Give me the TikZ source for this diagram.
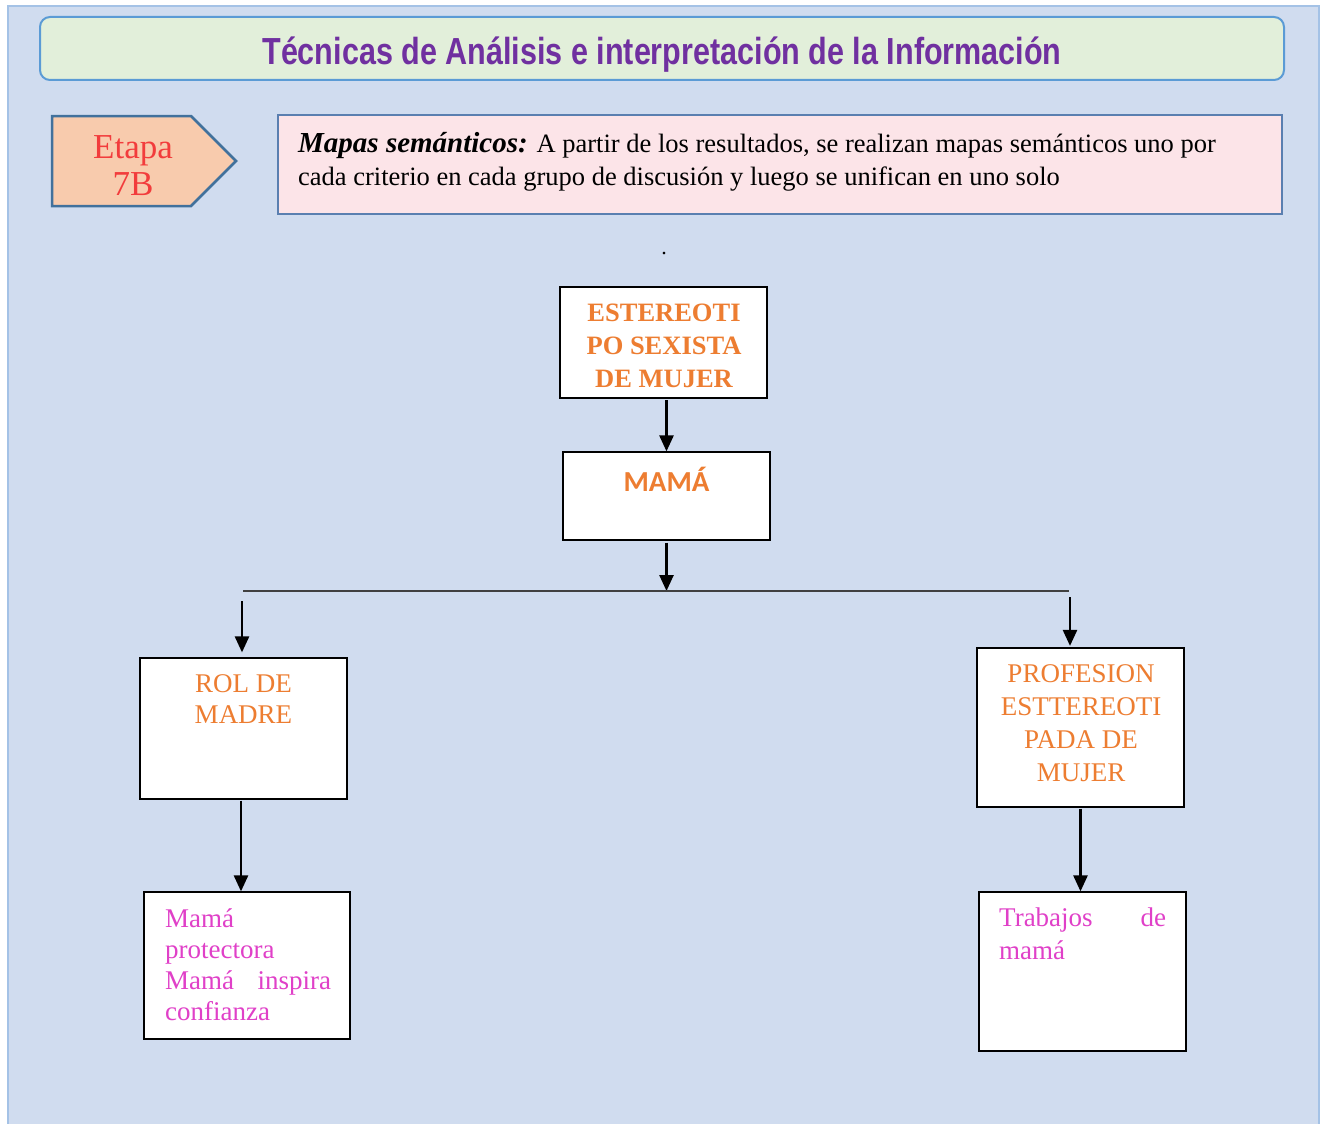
\documentclass[tikz,border=0pt]{standalone}
\usepackage{fontspec}
\setmainfont{Liberation Serif}
\newfontfamily\titlefont{Liberation Sans}[FakeStretch=0.81]
\newfontfamily\calfont{Carlito}
\usetikzlibrary{arrows.meta}
\definecolor{panelfill}{HTML}{D0DCEF}
\definecolor{panelline}{HTML}{A4C2E6}
\definecolor{titlefill}{HTML}{E2EFDA}
\definecolor{titleline}{HTML}{5B9BD5}
\definecolor{titletext}{HTML}{7030A0}
\definecolor{etapafill}{HTML}{F8CBAD}
\definecolor{etapaline}{HTML}{41719C}
\definecolor{etapatext}{HTML}{F23C3C}
\definecolor{descfill}{HTML}{FCE4E8}
\definecolor{descline}{HTML}{5A7FB0}
\definecolor{orangetext}{HTML}{ED7D31}
\definecolor{magentatext}{HTML}{E040C8}
\definecolor{hlinecol}{HTML}{404040}
\begin{document}
\begin{tikzpicture}[x=1pt,y=-1pt,
  box/.style={draw=black, fill=white, line width=1.2pt, inner sep=0pt},
  arr/.style={line width=2.5pt, -{Triangle[width=14pt,length=16pt]}},
  hline/.style={draw=hlinecol, line width=1.5pt},
  orangebold/.style={text=orangetext, align=center, inner sep=0pt, font=\bfseries\fontsize{26.5}{33}\selectfont},
  orangereg/.style={text=orangetext, align=center, inner sep=0pt, font=\fontsize{27}{31.5}\selectfont},
  magtext/.style={text=magentatext, align=left, inner sep=0pt, anchor=north west, font=\fontsize{27}{31}\selectfont}
]
\fill[white] (0,0) rectangle (1323,1124);
\useasboundingbox (0,0) rectangle (1323,1124);
% panel
\filldraw[fill=panelfill, draw=panelline, line width=1.5pt] (8,6) rectangle (1319,1135);
% title
\node[draw=titleline, fill=titlefill, line width=2pt, rounded corners=10pt,
      minimum width=1244pt, minimum height=63pt, inner sep=0pt] (title) at (662,48.5) {};
\node[anchor=base, inner sep=0pt, text=titletext] (titletxt) at (662,65)
  {\titlefont\bfseries\fontsize{37.7}{40}\selectfont Técnicas de Análisis e interpretación de la Información};
% etapa
\filldraw[fill=etapafill, draw=etapaline, line width=2.5pt, line join=miter]
  (52,116) -- (191,116) -- (236,161) -- (191,206) -- (52,206) -- cycle;
\node[text=etapatext, align=center, inner sep=0pt, font=\fontsize{35}{37}\selectfont] (etapa) at (133,166) {Etapa\\7B};
% description
\node[draw=descline, fill=descfill, line width=1.2pt, minimum width=1004pt, minimum height=99pt, inner sep=0pt] (desc) at (780,164.5) {};
\node[anchor=north west, align=left, inner sep=0pt, font=\fontsize{26.5}{33}\selectfont] (desctxt) at (298,132)
  {{\fontsize{29}{33}\selectfont\textbf{\textit{Mapas semánticos:}}} A partir de los resultados, se realizan mapas semánticos uno por\\cada criterio en cada grupo de discusión y luego se unifican en uno solo};
\node[inner sep=0pt, font=\fontsize{22}{24}\selectfont] (dot) at (664,254) {.};
% boxes
\node[box, minimum width=207pt, minimum height=111pt] (b1) at (663.5,342.5) {};
\node[orangebold] (b1t) at (664,346) {ESTEREOTI\\PO SEXISTA\\DE MUJER};
\node[box, minimum width=207pt, minimum height=88pt] (b2) at (666.5,496) {};
\node[anchor=base, inner sep=0pt, text=orangetext, font=\calfont\bfseries\fontsize{29}{31}\selectfont] (b2t) at (666.5,491) {MAMÁ};
\node[box, minimum width=207pt, minimum height=141pt] (rol) at (243.5,728.5) {};
\node[orangereg] (rolt) at (243.5,699) {ROL DE\\MADRE};
\node[box, minimum width=207pt, minimum height=159pt] (prof) at (1080.5,727.5) {};
\node[orangereg, font=\fontsize{27}{33}\selectfont] (proft) at (1081,723.5) {PROFESION\\ESTTEREOTI\\PADA DE\\MUJER};
\node[box, minimum width=206pt, minimum height=147pt] (mama) at (247,965.5) {};
\node[magtext, text width=166pt] (mamat) at (165,909) {Mamá\\protectora\\Mamá\hfill inspira\\confianza};
\node[box, minimum width=207pt, minimum height=159pt] (trab) at (1082.5,971.5) {};
\node[magtext, text width=167pt, font=\fontsize{27}{33}\selectfont] (trabt) at (999,908) {Trabajos\hfill de\\mamá};
% connectors
\coordinate (hl) at (243,591);
\coordinate (hr) at (1069,591);
\coordinate (r0) at (242,601);
\coordinate (p0) at (1070,597);
\draw[arr] (b1.south -| b2.north) ++(0,1.5) -- (b2.north);
\draw[arr] (b2.south) ++(0,2) -- (b2.south |- hl);
\draw[hline] (hl) -- (hr);
\draw[arr, shorten >=5pt] (r0) -- (r0 |- rol.north);
\draw[arr, shorten >=1.5pt] (p0) -- (p0 |- prof.north);
\draw[arr] ([xshift=-2.5pt]rol.south) ++(0,1) -- ([xshift=-2.5pt]rol.south |- mama.north);
\draw[arr] (prof.south) ++(0,1) -- (prof.south |- trab.north);
\end{tikzpicture}
\end{document}
